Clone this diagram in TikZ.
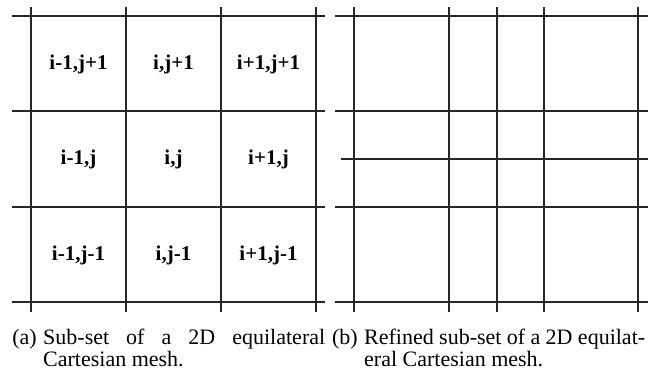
\documentclass[tikz,border=0pt]{standalone}
\usepackage{fontspec}
\setmainfont{Liberation Serif}
\usetikzlibrary{calc}

\begin{document}
\begin{tikzpicture}[x=1pt,y=1pt,
    meshline/.style={line width=1.3pt,black!85},
    cell/.style={font=\fontsize{21}{21}\selectfont\bfseries,inner sep=0pt},
    capfont/.style={inner sep=0pt,font=\fontsize{22}{22}\selectfont},
    capt/.style={capfont,anchor=north west,text width=#1,align=justify}]

  \useasboundingbox (0,0) rectangle (649,373);

  % (a) equilateral mesh
  \foreach \x in {31,126,221,316}
    \draw[meshline] (\x,366) -- (\x,61);
  \foreach \y in {357,262,166,71}
    \draw[meshline] (12,\y) -- (325,\y);
  \foreach \a [count=\c] in {i-1,i,i+1}
    \foreach \b [count=\r] in {j+1,j,j-1}
      \node[cell] (c\c\r) at ({-16.5+95*\c},{404.5-95.5*\r}) {\a,\b};

  % (b) refined mesh
  \foreach \x in {354,449,497,544,638}
    \draw[meshline] (\x,366) -- (\x,61);
  \foreach \y in {357,262,166,71}
    \draw[meshline] (335,\y) -- (648,\y);
  \draw[meshline] (341,214) -- (648,214);

  % captions
  \node[capt=282pt] (capa) at (43,44)
    {\tolerance=10000 Sub-set of a 2D equilateral\linebreak Cartesian mesh.};
  \node[capfont,anchor=base east] (laba) at ([xshift=-6pt]capa.north west |- 0,29) {(a)};
  \node[capt=281pt] (capb) at (364,44)
    {\tolerance=10000 Refined sub-set of a 2D equilat-\linebreak eral Cartesian mesh.};
  \node[capfont,anchor=base east] (labb) at ([xshift=-6pt]capb.north west |- 0,29) {(b)};

\end{tikzpicture}
\end{document}
